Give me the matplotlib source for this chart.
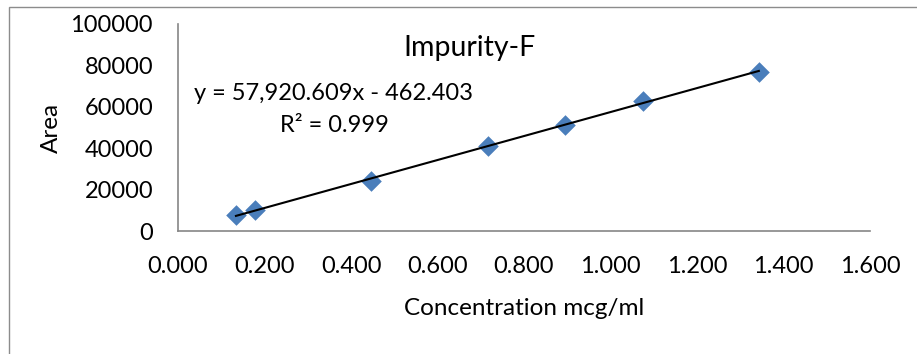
import matplotlib

matplotlib.use("Agg")
import matplotlib.pyplot as plt
from matplotlib.patches import Rectangle

# data
conc = [0.134, 0.179, 0.447, 0.716, 0.895, 1.074, 1.343]
area = [7700, 10100, 24200, 41200, 51200, 62700, 77000]
slope = 57920.609
intercept = -462.403
r_squared = 0.999
x_ticks = [0.0, 0.2, 0.4, 0.6, 0.8, 1.0, 1.2, 1.4, 1.6]
y_ticks = [0, 20000, 40000, 60000, 80000, 100000]

W, H = 917, 354
plt.rcParams["font.family"] = ["Lato", "DejaVu Sans"]

fig = plt.figure(figsize=(W / 100, H / 100), dpi=100)

# outer chart frame (runs off the right and bottom edges)
fig.patches.append(Rectangle((9 / W, -0.1), 1.2, (H - 7) / H + 0.1, transform=fig.transFigure,
                             fill=False, edgecolor="#8c8c8c", linewidth=1.0))

ax = fig.add_axes([178 / W, (H - 231) / H, 692 / W, 207 / H])
ax.scatter(conc, area, marker="D", s=110, color="#4a7ebb", zorder=3, linewidths=0)
x0, x1 = min(conc), max(conc)
ax.plot([x0, x1], [slope * x0 + intercept, slope * x1 + intercept], color="black", linewidth=1.5, zorder=4)

ax.set_xlim(0, 1.6)
ax.set_ylim(0, 100000)
ax.set_xticks(x_ticks)
ax.set_xticklabels([f"{v:.3f}" for v in x_ticks])
ax.set_yticks(y_ticks)
ax.set_yticklabels([str(v) for v in y_ticks])
ax.tick_params(axis="both", length=0, labelsize=17)
ax.tick_params(axis="x", pad=18)
ax.tick_params(axis="y", pad=18)
for side in ("top", "right"):
    ax.spines[side].set_visible(False)
for side in ("left", "bottom"):
    ax.spines[side].set_color("#868686")
    ax.spines[side].set_linewidth(1.2)

ax.set_xlabel("Concentration mcg/ml", fontsize=17.5, labelpad=15)
ax.set_ylabel("Area", fontsize=17.5, labelpad=6)

fig.text(470 / W, 1 - 48 / H, "Impurity-F", fontsize=20.5, ha="center", va="center")
fig.text(334 / W, 1 - 93 / H, f"y = {slope:,.3f}x - {abs(intercept):.3f}", fontsize=17, ha="center", va="center")
fig.text(334 / W, 1 - 126 / H, f"R² = {r_squared}", fontsize=17, ha="center", va="center")

fig.savefig("out.png", dpi=100)
